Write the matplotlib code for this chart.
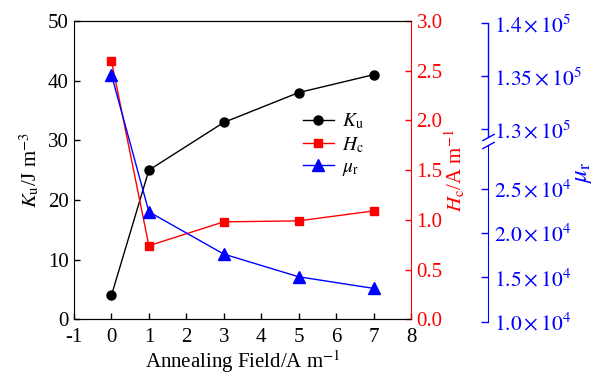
import numpy as np
import matplotlib.pyplot as plt
import matplotlib.transforms as mtransforms
from matplotlib.lines import Line2D

plt.rcParams['font.family'] = 'Liberation Serif'
plt.rcParams['mathtext.fontset'] = 'stix'
plt.rcParams['font.size'] = 15
plt.rcParams['axes.unicode_minus'] = False

# data
field = [0, 1, 3, 5, 7]
ku = [4.0, 25.0, 33.0, 38.0, 41.0]
hc = [2.6, 0.74, 0.98, 0.99, 1.09]
mur = [1.3515e5, 2.24e4, 1.763e4, 1.507e4, 1.376e4]

ku_ticks = [0, 10, 20, 30, 40, 50]
hc_ticks = [0.0, 0.5, 1.0, 1.5, 2.0, 2.5, 3.0]
mu_ticks = [1.0e4, 1.5e4, 2.0e4, 2.5e4, 1.3e5, 1.35e5, 1.4e5]
mu_labels = [r'$1.0\times10^4$', r'$1.5\times10^4$', r'$2.0\times10^4$', r'$2.5\times10^4$',
             r'$1.3\times10^5$', r'$1.35\times10^5$', r'$1.4\times10^5$']

# broken mu_r scale: two linear pieces with a gap
LOW_TOP, HIGH_BOT = 3.0e4, 1.293e5
PX_LOW, PX_HIGH, HIGH_T0 = 44.3 / 5e3, 53.0 / 5e3, 192.4
SPLIT = (LOW_TOP - 1e4) * PX_LOW


def fwd(v):
    v = np.asarray(v, dtype=float)
    return np.where(v <= LOW_TOP, (v - 1e4) * PX_LOW, HIGH_T0 + (v - 1.3e5) * PX_HIGH)


def inv(t):
    t = np.asarray(t, dtype=float)
    return np.where(t <= SPLIT, t / PX_LOW + 1e4, (t - HIGH_T0) / PX_HIGH + 1.3e5)


W, H = 595, 376
fig = plt.figure(figsize=(W / 100, H / 100), dpi=100)
ax = fig.add_axes([74 / W, (H - 319.3) / H, 337 / W, 298.3 / H])
ax2 = ax.twinx()
ax3 = fig.add_axes([74 / W, (H - 321.7) / H, 337 / W, 298.4 / H], sharex=ax)

# K_u
ax.plot(field, ku, '-o', color='black', ms=6.5, lw=1)
ax.set_xlim(-1, 8)
ax.set_ylim(0, 50)
ax.set_xticks(range(-1, 9))
ax.set_yticks(ku_ticks)
ax.tick_params(direction='in', length=4, width=1)
ax.tick_params(axis='x', pad=6)
ax.tick_params(axis='y', pad=4)
ax.set_xlabel(r'Annealing Field/A m$^{-1}$', labelpad=1)
ax.set_ylabel(r'$K_\mathrm{u}$/J m$^{-3}$', labelpad=4)
ax.spines['right'].set_visible(False)

# H_c
ax2.plot(field, hc, '-s', color='red', ms=6, lw=1)
ax2.set_ylim(0, 3.0)
ax2.set_yticks(hc_ticks)
ax2.set_yticklabels([f'{v:.1f}' for v in hc_ticks])
ax2.tick_params(axis='y', direction='in', length=4, width=1, colors='red', pad=4)
ax2.spines['right'].set_color('red')
ax2.spines['left'].set_visible(False)
ax2.set_ylabel(r'$H_\mathrm{c}$/A m$^{-1}$', color='red', labelpad=0)

# mu_r on broken axis
ax3.set_yscale('function', functions=(fwd, inv))
ax3.plot(field, mur, '-^', color='blue', ms=8, lw=1)
ax3.set_ylim(1e4, 1.4e5)
ax3.patch.set_visible(False)
for s in ['left', 'top', 'bottom']:
    ax3.spines[s].set_visible(False)
ax3.xaxis.set_visible(False)
ax3.yaxis.tick_right()
ax3.set_yticks(mu_ticks)
ax3.set_yticklabels(mu_labels)
ax3.yaxis.set_minor_locator(plt.NullLocator())
ax3.tick_params(axis='y', direction='in', length=5, width=1, colors='blue', pad=4, labelsize=15.5)
OFFSET_PX = 77
ax3.spines['right'].set_position(('outward', OFFSET_PX * 72 / 100))
ax3.spines['right'].set_color('blue')
ax3.spines['right'].set_bounds(1e4, LOW_TOP)
ax3.yaxis.set_label_position('right')
ax3.set_ylabel(r'$\mu_\mathrm{r}$', color='blue', fontsize=18)
ax3.yaxis.set_label_coords((572 - 74) / 337, 0.5)

shift = mtransforms.ScaledTranslation(OFFSET_PX / 100, 0, fig.dpi_scale_trans)
spine_tr = mtransforms.blended_transform_factory(ax3.transAxes + shift, ax3.transData)
ax3.plot([1, 1], [HIGH_BOT, 1.4e5], color='blue', lw=1, transform=spine_tr, clip_on=False)
ax3.plot([1, 1], [LOW_TOP, HIGH_BOT], ls='none', marker=[(-1, -0.55), (1, 0.55)],
         ms=9, mec='blue', mew=1, transform=spine_tr, clip_on=False)

handles = [Line2D([], [], color='black', marker='o', ms=6.5, lw=1),
           Line2D([], [], color='red', marker='s', ms=6, lw=1),
           Line2D([], [], color='blue', marker='^', ms=8, lw=1)]
ax3.legend(handles, [r'$K_\mathrm{u}$', r'$H_\mathrm{c}$', r'$\mu_\mathrm{r}$'],
           loc='upper left', bbox_to_anchor=(285 / W, 1 - 94 / H), bbox_transform=fig.transFigure,
           frameon=False, handlelength=1.6, handletextpad=0.45, labelspacing=0.2, fontsize=14)

fig.savefig('out.png', dpi=100)
